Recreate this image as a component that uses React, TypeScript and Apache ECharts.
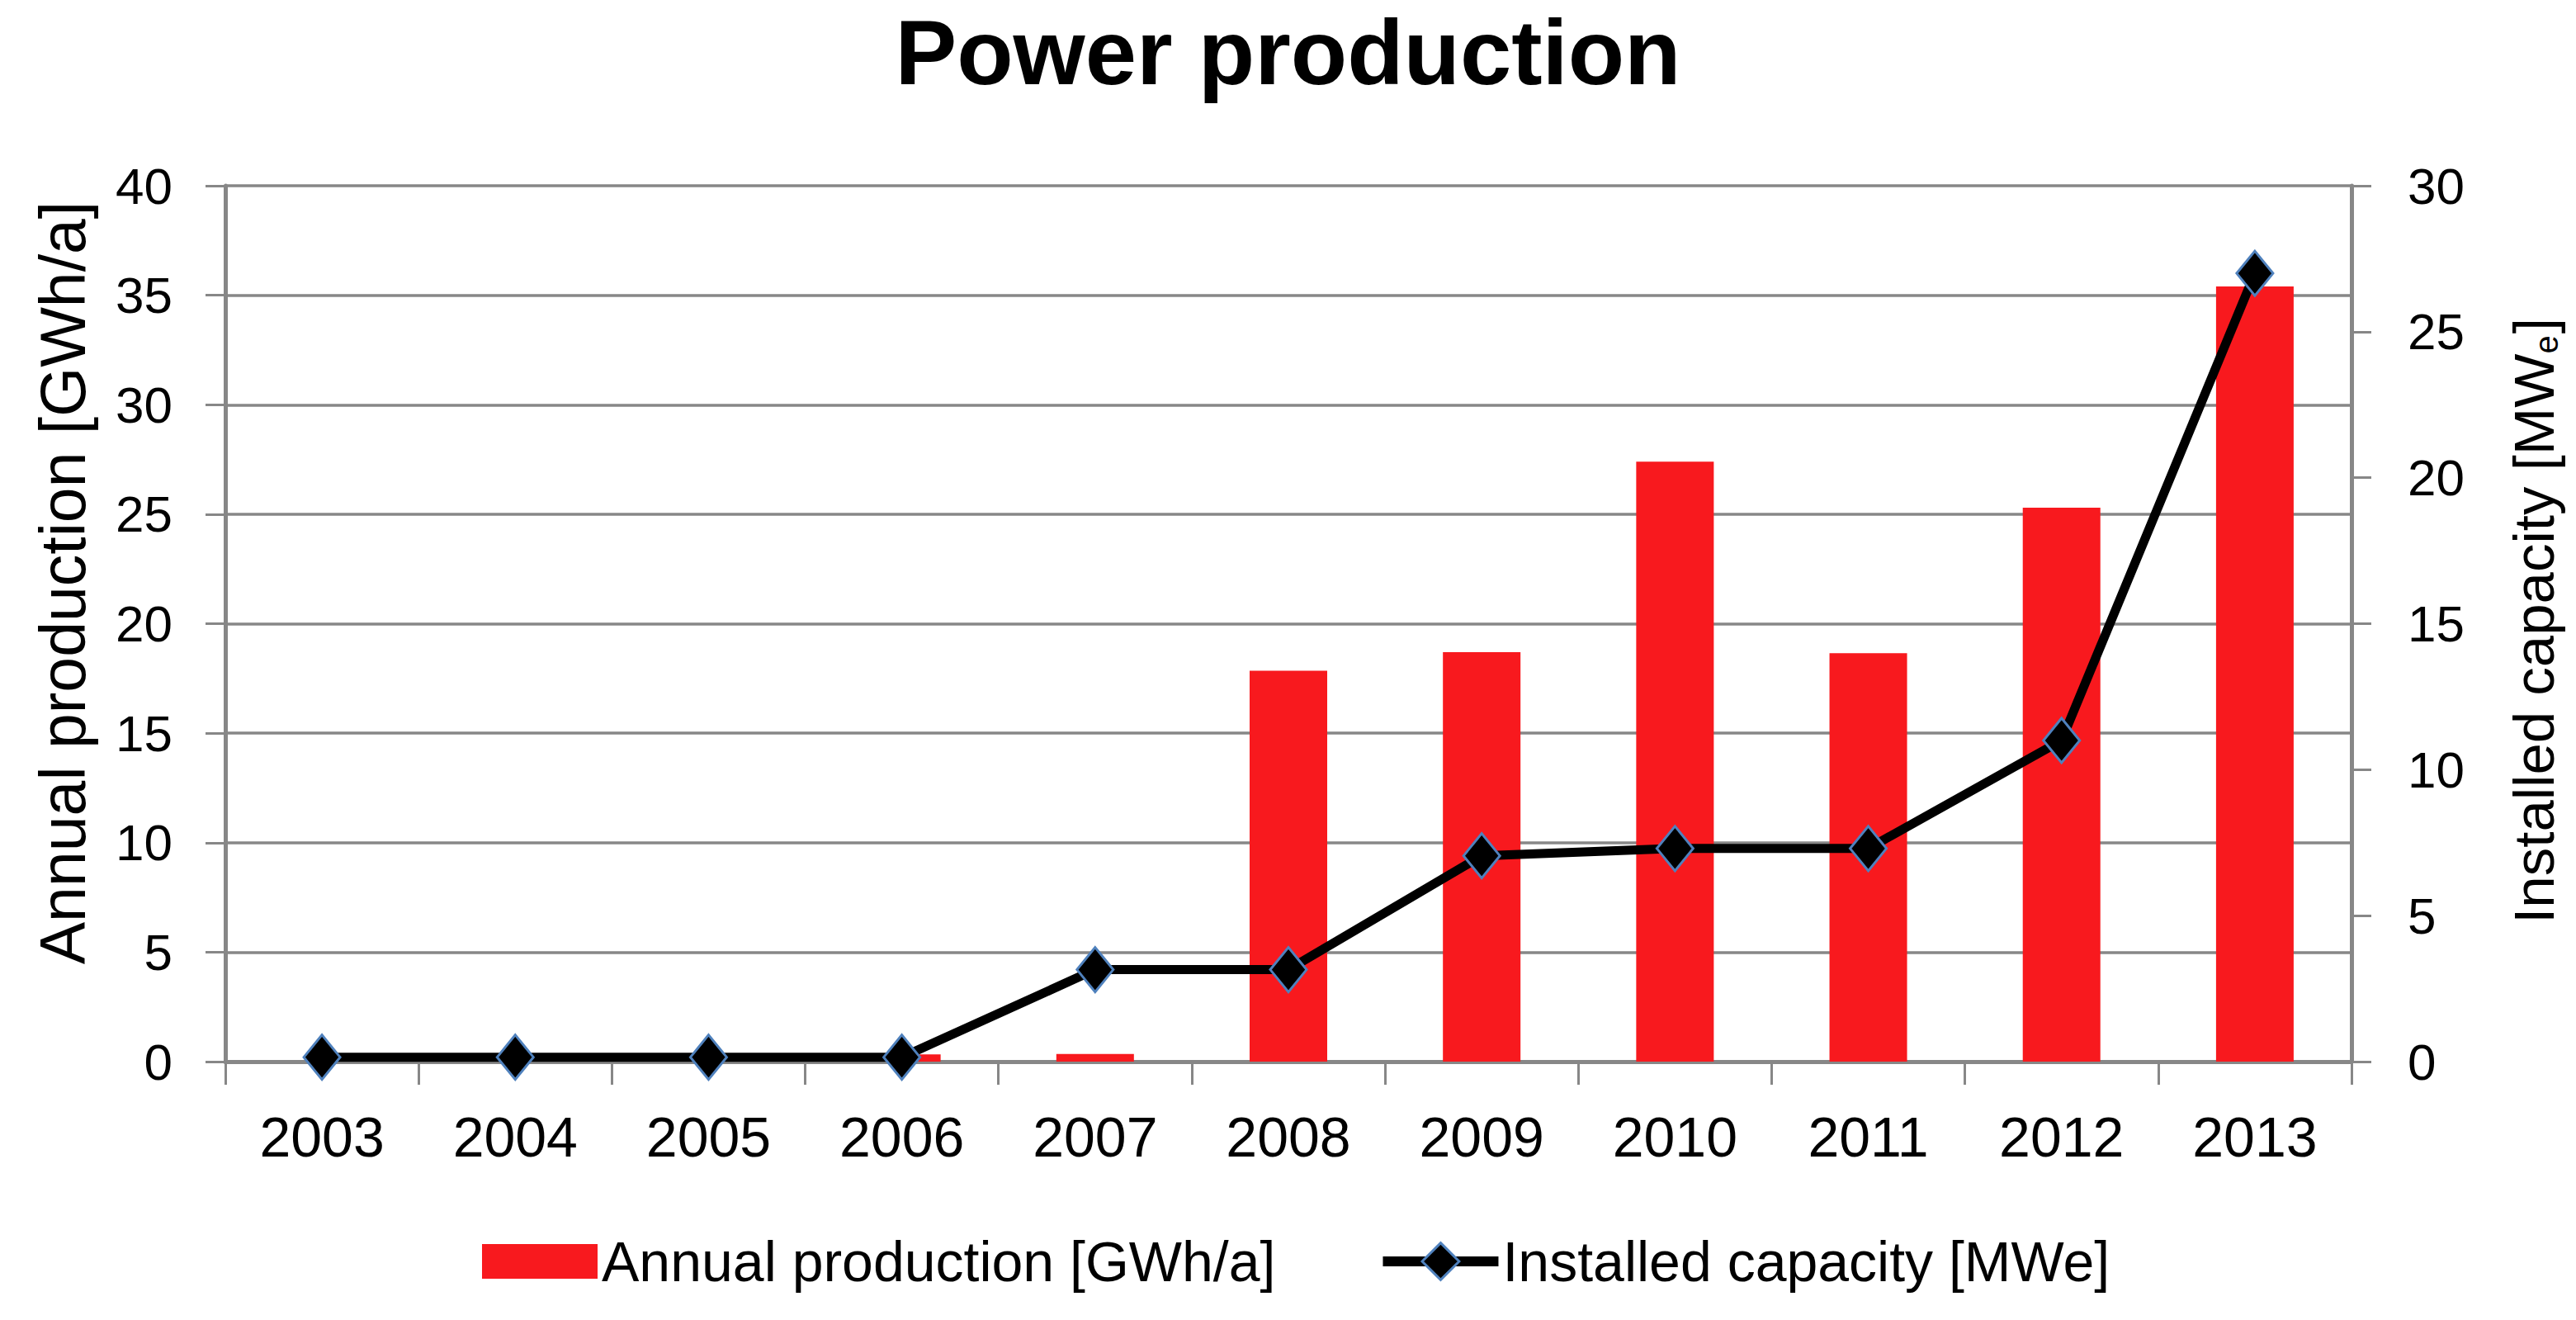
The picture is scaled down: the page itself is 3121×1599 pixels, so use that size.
import React, { useEffect, useRef } from "react";
import * as echarts from "echarts";

const years = ["2003", "2004", "2005", "2006", "2007", "2008", "2009", "2010", "2011", "2012", "2013"];
const annualProduction = [0, 0, 0, 0.33, 0.35, 17.85, 18.7, 27.4, 18.65, 25.3, 35.4];
const installedCapacity = [0.15, 0.15, 0.15, 0.15, 3.15, 3.15, 7.05, 7.3, 7.3, 11.0, 27.0];
const leftAxisRange = { min: 0, max: 40, interval: 5 };
const rightAxisRange = { min: 0, max: 30, interval: 5 };

const titleText = "Power production";
const seriesNames = ["Annual production [GWh/a]", "Installed capacity [MWe]"];
const leftAxisName = "Annual production [GWh/a]";

const FONT = "'Liberation Sans', Arial, sans-serif";
const GRAY = "#878787";
const RED = "#F8191E";

export default function App() {
  const ref = useRef<HTMLDivElement>(null);

  useEffect(() => {
    document.body.style.margin = "0";
    document.body.style.overflow = "hidden";
    if (!ref.current) return;
    const chart = echarts.init(ref.current, undefined, { renderer: "svg" });
    chart.setOption({
      animation: false,
      backgroundColor: "#ffffff",
      title: {
        text: titleText,
        left: "center",
        top: 7,
        padding: 0,
        textStyle: { fontFamily: FONT, fontWeight: "bold", fontSize: 112, color: "#000" },
      },
      grid: { left: 273, right: 272, top: 225, bottom: 1599 - 1286 },
      legend: {
        left: 584,
        top: 1494,
        padding: 0,
        itemGap: 124,
        itemWidth: 140,
        itemHeight: 56,
        textStyle: { fontFamily: FONT, fontSize: 68, color: "#000" },
        data: [
          { name: seriesNames[0], icon: "path://M0 0H140V42H0Z", itemStyle: { color: RED } },
          {
            name: seriesNames[1],
            lineStyle: { width: 12, color: "#000" },
            itemStyle: { color: "#000", borderColor: "#4F81BD", borderWidth: 3 },
          },
        ],
      },
      xAxis: {
        type: "category",
        data: years,
        boundaryGap: true,
        axisLine: { lineStyle: { color: GRAY, width: 5 } },
        axisTick: { show: true, length: 28, lineStyle: { color: GRAY, width: 3 } },
        axisLabel: { margin: 57, fontFamily: FONT, fontSize: 68, color: "#000" },
      },
      yAxis: [
        {
          type: "value",
          position: "left",
          min: leftAxisRange.min,
          max: leftAxisRange.max,
          interval: leftAxisRange.interval,
          axisLine: { show: true, lineStyle: { color: GRAY, width: 5 } },
          axisTick: { show: true, length: 24, lineStyle: { color: GRAY, width: 3 } },
          splitLine: { show: true, lineStyle: { color: GRAY, width: 3.5 } },
          axisLabel: { margin: 64, fontFamily: FONT, fontSize: 62, color: "#000" },
        },
        {
          type: "value",
          position: "right",
          min: rightAxisRange.min,
          max: rightAxisRange.max,
          interval: rightAxisRange.interval,
          axisLine: { show: true, lineStyle: { color: GRAY, width: 5 } },
          axisTick: { show: true, length: 24, lineStyle: { color: GRAY, width: 3 } },
          splitLine: { show: false },
          axisLabel: { margin: 68, fontFamily: FONT, fontSize: 62, color: "#000" },
        },
      ],
      graphic: [
        {
          type: "text",
          x: 76,
          y: 706,
          rotation: Math.PI / 2,
          style: {
            text: leftAxisName,
            fontFamily: FONT,
            fontSize: 77,
            fill: "#000",
            align: "center",
            verticalAlign: "middle",
          },
        },
        {
          type: "text",
          x: 3065,
          y: 752,
          rotation: Math.PI / 2,
          style: {
            text: "{a|Installed capacity [MW}{s|e}{a|]}",
            fill: "#000",
            align: "center",
            verticalAlign: "middle",
            rich: {
              a: { fontFamily: FONT, fontSize: 69, lineHeight: 80, fill: "#000", verticalAlign: "bottom" },
              s: { fontFamily: FONT, fontSize: 40, lineHeight: 80, fill: "#000", verticalAlign: "bottom", padding: [0, 2, 0, 0] },
            },
          },
        },
      ],
      series: [
        {
          name: seriesNames[0],
          type: "bar",
          yAxisIndex: 0,
          data: annualProduction,
          barWidth: 94,
          itemStyle: { color: RED },
          z: 2,
        },
        {
          name: seriesNames[1],
          type: "line",
          yAxisIndex: 1,
          data: installedCapacity,
          symbol: "diamond",
          symbolSize: [44, 54],
          lineStyle: { color: "#000", width: 11 },
          itemStyle: { color: "#000", borderColor: "#4F81BD", borderWidth: 3 },
          z: 3,
        },
      ],
    });
    return () => chart.dispose();
  }, []);

  return <div ref={ref} style={{ width: 3121, height: 1599 }} />;
}
